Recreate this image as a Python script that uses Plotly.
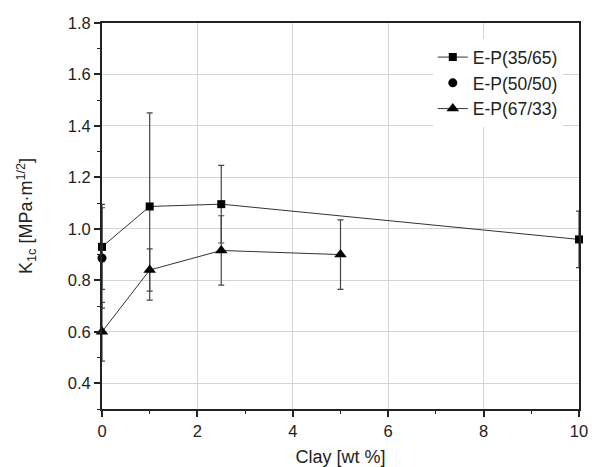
import plotly.graph_objects as go

# Data
sq_x = [0, 1, 2.5, 10]
sq_y = [0.93, 1.087, 1.096, 0.959]
sq_err = [0.165, 0.364, 0.151, 0.11]

ci_x = [0]
ci_y = [0.887]
ci_err = [0.195]

tr_x = [0, 1, 2.5, 5]
tr_y = [0.60, 0.84, 0.916, 0.90]
tr_err = [0.114, 0.082, 0.135, 0.135]

names = ["E-P(35/65)", "E-P(50/50)", "E-P(67/33)"]

FONT = "Liberation Sans, Arial, sans-serif"
line_col = "#333333"
err_style = dict(type="data", visible=True, thickness=1.2, width=3, color="#444444")

fig = go.Figure()
fig.add_trace(go.Scatter(
    x=sq_x, y=sq_y, name=names[0], mode="lines+markers",
    line=dict(color=line_col, width=1),
    marker=dict(symbol="square", size=8, color="black"),
    error_y=dict(array=sq_err, **err_style), cliponaxis=False))
fig.add_trace(go.Scatter(
    x=ci_x, y=ci_y, name=names[1], mode="markers",
    marker=dict(symbol="circle", size=9, color="black"),
    error_y=dict(array=ci_err, **err_style), cliponaxis=False))
fig.add_trace(go.Scatter(
    x=tr_x, y=tr_y, name=names[2], mode="lines+markers",
    line=dict(color=line_col, width=1),
    marker=dict(symbol="triangle-up", size=11, color="black"),
    error_y=dict(array=tr_err, **err_style), cliponaxis=False))

axis_common = dict(
    showline=True, linecolor="#222222", linewidth=2, mirror=True,
    ticks="outside", ticklen=6, tickwidth=1.5, tickcolor="#222222",
    showgrid=True, gridcolor="#d4d4d4", gridwidth=1.2,
    zeroline=False,
    tickfont=dict(family=FONT, size=16.5, color="#222222"),
)

fig.update_xaxes(
    range=[0, 10], tickvals=[0, 2, 4, 6, 8, 10],
    minor=dict(ticks="outside", ticklen=3, tickwidth=1, tickcolor="#222222", dtick=1, showgrid=False),
    title=dict(text="Clay [wt %]", standoff=13,
               font=dict(family=FONT, size=18, color="#222222")),
    **axis_common)
fig.update_yaxes(
    range=[0.3, 1.8], tickvals=[0.4, 0.6, 0.8, 1.0, 1.2, 1.4, 1.6, 1.8],
    ticktext=["0.4", "0.6", "0.8", "1.0", "1.2", "1.4", "1.6", "1.8"],
    minor=dict(ticks="outside", ticklen=3, tickwidth=1, tickcolor="#222222", dtick=0.1, showgrid=False),
    title=dict(text="K<sub>1c</sub> [MPa·m<sup>1/2</sup>]", standoff=30,
               font=dict(family=FONT, size=18, color="#222222")),
    **axis_common)

fig.update_layout(
    width=592, height=467,
    margin=dict(l=102, r=13, t=23, b=58, autoexpand=False),
    paper_bgcolor="white", plot_bgcolor="white",
    showlegend=True,
    legend=dict(x=0.966, y=0.958, xanchor="right", yanchor="top",
                bgcolor="white", borderwidth=0,
                font=dict(family=FONT, size=17.5, color="#222222"),
                itemwidth=30, tracegroupgap=0),
)

fig.write_html("out.html", config={"displayModeBar": False},
               post_script="document.body.style.margin='0';document.body.style.overflow='hidden';")
